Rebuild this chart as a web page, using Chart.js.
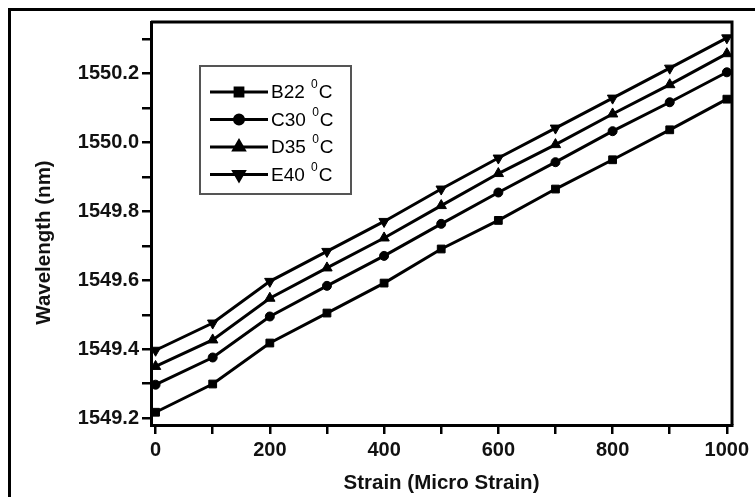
<!DOCTYPE html>
<html>
<head>
<meta charset="UTF-8" />
<title>Wavelength vs Strain</title>
<script src="https://cdn.jsdelivr.net/npm/chart.js"></script>
<style>
  body { margin: 0; background: #fff; }
  canvas { display: block; }
</style>
</head>
<body>
<canvas id="chart" width="755" height="497"></canvas>
<script>
  // strain values (micro strain) and wavelength (nm) for each temperature
  const strain = [0, 100, 200, 300, 400, 500, 600, 700, 800, 900, 1000];
  const b22 = [1549.217, 1549.299, 1549.418, 1549.505, 1549.592, 1549.691, 1549.774, 1549.865, 1549.950, 1550.037, 1550.126];
  const c30 = [1549.297, 1549.376, 1549.495, 1549.584, 1549.671, 1549.764, 1549.855, 1549.943, 1550.033, 1550.117, 1550.204];
  const d35 = [1549.350, 1549.427, 1549.548, 1549.636, 1549.723, 1549.817, 1549.910, 1549.994, 1550.083, 1550.168, 1550.258];
  const e40 = [1549.397, 1549.476, 1549.597, 1549.684, 1549.771, 1549.865, 1549.955, 1550.042, 1550.129, 1550.216, 1550.304];

  const seriesNames = ['B22', 'C30', 'D35', 'E40'];
  const unitLabel = '⁰C';
  const yTicks = [1549.2, 1549.3, 1549.4, 1549.5, 1549.6, 1549.7, 1549.8, 1549.9, 1550.0, 1550.1, 1550.2, 1550.3];
  const xTicks = [0, 100, 200, 300, 400, 500, 600, 700, 800, 900, 1000];
  const xTitle = 'Strain (Micro Strain)';
  const yTitle = 'Wavelength (nm)';

  const series = [b22, c30, d35, e40];
  const markers = [
    { style: 'rect', radius: 5.5, rotation: 0 },
    { style: 'circle', radius: 4.5, rotation: 0 },
    { style: 'triangle', radius: 6, rotation: 0 },
    { style: 'triangle', radius: 6, rotation: 180 }
  ];

  const datasets = series.map((vals, i) => ({
    label: seriesNames[i] + ' ' + unitLabel,
    data: strain.map((s, j) => ({ x: s, y: vals[j] })),
    borderColor: '#000',
    backgroundColor: '#000',
    borderWidth: 3,
    pointStyle: markers[i].style,
    pointRadius: markers[i].radius,
    pointRotation: markers[i].rotation,
    pointBorderWidth: 1,
    pointBackgroundColor: '#000',
    tension: 0
  }));

  const fontFamily = '"Liberation Sans", Arial, sans-serif';

  // outer frame, top/right border of the plot box, y title
  const framePlugin = {
    id: 'frame',
    beforeDraw(chart) {
      const ctx = chart.ctx;
      ctx.save();
      ctx.fillStyle = '#fff';
      ctx.fillRect(0, 0, chart.width, chart.height);
      ctx.strokeStyle = '#000';
      ctx.lineWidth = 3;
      ctx.beginPath();
      ctx.moveTo(9.5, chart.height);
      ctx.lineTo(9.5, 9.5);
      ctx.lineTo(chart.width, 9.5);
      ctx.stroke();
      ctx.restore();
    },
    afterDraw(chart) {
      const { ctx, chartArea: a } = chart;
      ctx.save();
      ctx.strokeStyle = '#000';
      ctx.lineWidth = 3;
      ctx.beginPath();
      ctx.moveTo(a.left, a.top);
      ctx.lineTo(a.right, a.top);
      ctx.lineTo(a.right, a.bottom);
      ctx.stroke();

      // y title sits a little below the middle of the axis in the original
      ctx.translate(44, (a.top + a.bottom) / 2 + 19);
      ctx.rotate(-Math.PI / 2);
      ctx.fillStyle = '#111';
      ctx.font = 'bold 20.5px ' + fontFamily;
      ctx.textAlign = 'center';
      ctx.textBaseline = 'middle';
      ctx.fillText(yTitle, 0, 0);
      ctx.restore();
    }
  };

  // legend box inside the plot, line sample with marker in the middle
  const legendPlugin = {
    id: 'boxLegend',
    afterDraw(chart) {
      const { ctx, chartArea: a } = chart;
      const bx = a.left + 49, by = a.top + 44, bw = 151, bh = 128;
      ctx.save();
      ctx.strokeStyle = '#555';
      ctx.lineWidth = 2;
      ctx.strokeRect(bx, by, bw, bh);
      chart.data.datasets.forEach((ds, i) => {
        const y = by + 26 + i * 27.5;
        ctx.strokeStyle = '#000';
        ctx.lineWidth = 3;
        ctx.beginPath();
        ctx.moveTo(bx + 10, y);
        ctx.lineTo(bx + 68, y);
        ctx.stroke();
        ctx.fillStyle = '#000';
        Chart.helpers.drawPoint(ctx, {
          pointStyle: ds.pointStyle,
          rotation: ds.pointRotation,
          radius: ds.pointRadius,
          borderWidth: 1
        }, bx + 39, y);
        ctx.fill();
        ctx.textBaseline = 'middle';
        ctx.font = '19px ' + fontFamily;
        const name = seriesNames[i] + ' ';
        ctx.fillText(name, bx + 71, y + 1);
        const w = ctx.measureText(name).width;
        ctx.font = '12px ' + fontFamily;
        ctx.fillText('0', bx + 72 + w, y - 7);
        const w2 = ctx.measureText('0').width;
        ctx.font = '19px ' + fontFamily;
        ctx.fillText('C', bx + 73 + w + w2, y + 1);
      });
      ctx.restore();
    }
  };

  const tickFont = { family: fontFamily, size: 20, weight: 'bold' };
  const titleFont = { family: fontFamily, size: 20.5, weight: 'bold' };

  new Chart(document.getElementById('chart').getContext('2d'), {
    type: 'line',
    data: { datasets },
    plugins: [framePlugin, legendPlugin],
    options: {
      responsive: false,
      animation: false,
      devicePixelRatio: 1,
      layout: { padding: { top: 22, right: 23, left: 0, bottom: 0 } },
      plugins: { legend: { display: false }, tooltip: { enabled: false } },
      scales: {
        x: {
          type: 'linear',
          min: -8,
          max: 1009,
          afterFit: s => { s.height = 72; },
          afterBuildTicks: s => { s.ticks = xTicks.map(v => ({ value: v })); },
          border: { display: true, color: '#000', width: 3 },
          grid: { drawOnChartArea: false, drawTicks: true, tickLength: 9, color: '#000', lineWidth: 2.5 },
          ticks: {
            color: '#111',
            font: tickFont,
            padding: 4,
            maxRotation: 0,
            autoSkip: false,
            callback: v => (v % 200 === 0 ? String(v) : '')
          },
          title: { display: true, text: xTitle, color: '#111', font: titleFont, padding: { top: 0, bottom: 1 } }
        },
        y: {
          type: 'linear',
          min: 1549.18,
          max: 1550.35,
          afterFit: s => { s.width = 151; },
          afterBuildTicks: s => { s.ticks = yTicks.map(v => ({ value: v })); },
          border: { display: true, color: '#000', width: 3 },
          grid: { drawOnChartArea: false, drawTicks: true, tickLength: 9, color: '#000', lineWidth: 2.5 },
          ticks: {
            color: '#111',
            font: tickFont,
            padding: 3,
            autoSkip: false,
            callback: v => (Math.round(v * 10) % 2 === 0 ? v.toFixed(1) : '')
          },
          title: { display: false }
        }
      }
    }
  });
</script>
</body>
</html>
